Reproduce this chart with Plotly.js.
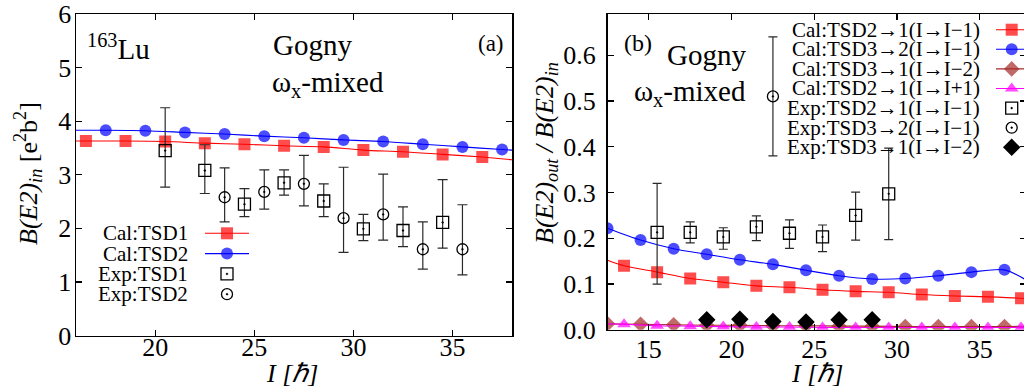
<!DOCTYPE html>
<html>
<head>
<meta charset="utf-8">
<script src="https://cdn.plot.ly/plotly-3.0.1.min.js"></script>
<style>
  html, body { margin: 0; padding: 0; overflow: hidden; background: #fff; }
  #plot { width: 1032px; height: 392px; }
</style>
</head>
<body>
<div id="plot"></div>
<script>
// ---------- Panel (a): in-band B(E2), 163Lu ----------
const spinA_calTSD1 = [16.5, 18.5, 20.5, 22.5, 24.5, 26.5, 28.5, 30.5, 32.5, 34.5, 36.5];
const be2A_calTSD1  = [3.63, 3.63, 3.62, 3.59, 3.57, 3.54, 3.52, 3.46, 3.43, 3.38, 3.33];
const spinA_calTSD2 = [17.5, 19.5, 21.5, 23.5, 25.5, 27.5, 29.5, 31.5, 33.5, 35.5, 37.5];
const be2A_calTSD2  = [3.83, 3.82, 3.79, 3.76, 3.72, 3.69, 3.65, 3.62, 3.57, 3.52, 3.47];
// calculated curves where they meet the frame (I = 16 and I = 38)
const edgeA_calTSD1 = [3.63, 3.28];
const edgeA_calTSD2 = [3.83, 3.46];

const spinA_expTSD1 = [20.5, 22.5, 24.5, 26.5, 28.5, 30.5, 32.5, 34.5];
const be2A_expTSD1  = [3.45, 3.08, 2.45, 2.85, 2.51, 1.99, 1.96, 2.11];
const errUpA_expTSD1 = [0.80, 0.48, 0.29, 0.24, 0.32, 0.27, 0.44, 0.80];
const errDnA_expTSD1 = [0.68, 0.43, 0.23, 0.23, 0.29, 0.22, 0.30, 0.48];
const spinA_expTSD2 = [23.5, 25.5, 27.5, 29.5, 31.5, 33.5, 35.5];
const be2A_expTSD2  = [2.58, 2.68, 2.83, 2.19, 2.26, 1.61, 1.61];
const errUpA_expTSD2 = [0.55, 0.41, 0.53, 0.95, 0.75, 0.51, 0.83];
const errDnA_expTSD2 = [0.46, 0.32, 0.41, 0.64, 0.48, 0.37, 0.48];

// ---------- Panel (b): out-of-band / in-band ratios ----------
const spinB_cal21m = [13.5, 15.5, 17.5, 19.5, 21.5, 23.5, 25.5, 27.5, 29.5, 31.5, 33.5, 35.5, 37.5];
const ratioB_cal21m = [0.140, 0.126, 0.112, 0.104, 0.096, 0.093, 0.0875, 0.084, 0.082, 0.077, 0.074, 0.072, 0.069];
const edgeB_cal21m = [0.152, 0.068];
const spinB_cal32m = [12.5, 14.5, 16.5, 18.5, 20.5, 22.5, 24.5, 26.5, 28.5, 30.5, 32.5, 34.5, 36.5];
const ratioB_cal32m = [0.222, 0.196, 0.177, 0.165, 0.153, 0.143, 0.130, 0.118, 0.111, 0.112, 0.118, 0.126, 0.131];
const edgeB_cal32m = [null, 0.109];
const spinB_cal31 = [12.5, 14.5, 16.5, 18.5, 20.5, 22.5, 24.5, 26.5, 28.5, 30.5, 32.5, 34.5, 36.5];
const ratioB_cal31 = [0.013, 0.012, 0.011, 0.010, 0.010, 0.009, 0.009, 0.008, 0.008, 0.007, 0.007, 0.007, 0.007];
const edgeB_cal31 = [null, 0.008];
const spinB_cal21p = [13.5, 15.5, 17.5, 19.5, 21.5, 23.5, 25.5, 27.5, 29.5, 31.5, 33.5, 35.5, 37.5];
const ratioB_cal21p = [0.012, 0.009, 0.008, 0.007, 0.006, 0.006, 0.005, 0.005, 0.005, 0.005, 0.005, 0.005, 0.005];
const edgeB_cal21p = [0.013, 0.005];

const spinB_exp21 = [15.5, 17.5, 19.5, 21.5, 23.5, 25.5, 27.5, 29.5];
const ratioB_exp21 = [0.213, 0.213, 0.203, 0.225, 0.211, 0.203, 0.250, 0.297];
const errUpB_exp21 = [0.107, 0.023, 0.020, 0.024, 0.029, 0.026, 0.051, 0.100];
const errDnB_exp21 = [0.113, 0.023, 0.027, 0.030, 0.033, 0.032, 0.054, 0.100];
const spinB_exp32 = [22.5];
const ratioB_exp32 = [0.51];
const errUpB_exp32 = [0.13];
const errDnB_exp32 = [0.13];
const spinB_exp31 = [18.5, 20.5, 22.5, 24.5, 26.5, 28.5];
const ratioB_exp31 = [0.022, 0.023, 0.018, 0.017, 0.022, 0.022];

// ---------- labels ----------
const legendA = ['Cal:TSD1', 'Cal:TSD2', 'Exp:TSD1', 'Exp:TSD2'];
const legendB = ['Cal:TSD2\u21921(I\u2192I\u22121)', 'Cal:TSD3\u21922(I\u2192I\u22121)',
                 'Cal:TSD3\u21921(I\u2192I\u22122)', 'Cal:TSD2\u21921(I\u2192I+1)',
                 'Exp:TSD2\u21921(I\u2192I\u22121)', 'Exp:TSD3\u21922(I\u2192I\u22121)',
                 'Exp:TSD3\u21921(I\u2192I\u22122)'];
const ticksA_x = [20, 25, 30, 35];
const ticksA_y = [0, 1, 2, 3, 4, 5, 6];
const ticksB_x = [15, 20, 25, 30, 35];
const ticksB_y = [0, 0.1, 0.2, 0.3, 0.4, 0.5, 0.6];

// ---------- geometry and styles ----------
const W = 1032, H = 392;
const px = v => v / W;
const py = v => 1 - v / H;
const rangeA = [16, 38], rangeB = [12.5, 37.8];
const FONT = 'Liberation Serif, Times New Roman, serif';

const sty = {
  red:     { color: '#ff0000', symbol: 'square',          size: 12 },
  blue:    { color: '#0000ff', symbol: 'circle',          size: 12 },
  brown:   { color: '#a52a2a', symbol: 'diamond',         size: 12 },
  magenta: { color: '#ff00ff', symbol: 'triangle-up',     size: 12 },
  expSq:   { color: '#000000', symbol: 'square-open-dot', size: 12 },
  expCi:   { color: '#000000', symbol: 'circle-open-dot', size: 11 },
  expDi:   { color: '#000000', symbol: 'diamond',         size: 12 }
};

// calculated series: markers at the points, smooth curve continued to the frame edges
function calTrace(I, vals, edge, range, st, xa, ya) {
  const xs = [], ys = [], sz = [];
  if (edge[0] !== null) { xs.push(range[0]); ys.push(edge[0]); sz.push(0); }
  I.forEach((v, i) => { xs.push(v); ys.push(vals[i]); sz.push(st.size); });
  if (edge[1] !== null) { xs.push(range[1]); ys.push(edge[1]); sz.push(0); }
  return {
    type: 'scatter', mode: 'lines+markers', x: xs, y: ys, xaxis: xa, yaxis: ya,
    line: { color: st.color, width: 1.1, shape: 'spline', smoothing: 0.8 },
    marker: { color: st.color, symbol: st.symbol, size: sz, line: { width: 0 } },
    hoverinfo: 'x+y'
  };
}

function expTrace(I, vals, up, dn, st, xa, ya, capW) {
  const t = {
    type: 'scatter', mode: 'markers', x: I, y: vals, xaxis: xa, yaxis: ya,
    marker: { color: st.color, symbol: st.symbol, size: st.size, line: { width: 1.3, color: st.color } }
  };
  if (up) {
    t.error_y = { type: 'data', symmetric: false, array: up, arrayminus: dn,
                  color: '#2a2a2a', thickness: 1.2, width: capW };
  }
  return t;
}

const traces = [
  calTrace(spinA_calTSD1, be2A_calTSD1, edgeA_calTSD1, rangeA, sty.red, 'x', 'y'),
  calTrace(spinA_calTSD2, be2A_calTSD2, edgeA_calTSD2, rangeA, sty.blue, 'x', 'y'),
  expTrace(spinA_expTSD1, be2A_expTSD1, errUpA_expTSD1, errDnA_expTSD1, sty.expSq, 'x', 'y', 5),
  expTrace(spinA_expTSD2, be2A_expTSD2, errUpA_expTSD2, errDnA_expTSD2, sty.expCi, 'x', 'y', 5),

  calTrace(spinB_cal31, ratioB_cal31, edgeB_cal31, rangeB, sty.brown, 'x2', 'y2'),
  calTrace(spinB_cal21p, ratioB_cal21p, edgeB_cal21p, rangeB, sty.magenta, 'x2', 'y2'),
  expTrace(spinB_exp31, ratioB_exp31, null, null, sty.expDi, 'x2', 'y2'),
  calTrace(spinB_cal21m, ratioB_cal21m, edgeB_cal21m, rangeB, sty.red, 'x2', 'y2'),
  calTrace(spinB_cal32m, ratioB_cal32m, edgeB_cal32m, rangeB, sty.blue, 'x2', 'y2'),
  expTrace(spinB_exp21, ratioB_exp21, errUpB_exp21, errDnB_exp21, sty.expSq, 'x2', 'y2', 4.5),
  expTrace(spinB_exp32, ratioB_exp32, errUpB_exp32, errDnB_exp32, sty.expCi, 'x2', 'y2', 4.5)
];

// ---------- keys (text right-aligned, sample to its right) ----------
const annotations = [];
function keyRow(label, st, isCal, textRight, rowY, lineX0, markX, lineX1) {
  annotations.push({
    xref: 'paper', yref: 'paper', x: px(textRight), y: py(rowY),
    xanchor: 'right', yanchor: 'middle', showarrow: false, text: label,
    font: { family: FONT, size: 21, color: '#000' }
  });
  if (isCal) {
    traces.push({
      type: 'scatter', mode: 'lines+markers', xaxis: 'x3', yaxis: 'y3',
      x: [lineX0, markX, lineX1], y: [rowY, rowY, rowY], hoverinfo: 'skip',
      line: { color: st.color, width: 1.1 },
      marker: { color: st.color, symbol: st.symbol, size: [0, st.size, 0], line: { width: 0 } }
    });
  } else {
    traces.push({
      type: 'scatter', mode: 'markers', xaxis: 'x3', yaxis: 'y3',
      x: [markX], y: [rowY], hoverinfo: 'skip',
      marker: { color: st.color, symbol: st.symbol, size: st.size, line: { width: 1.3, color: st.color } }
    });
  }
}
const keyStylesA = [[sty.red, true], [sty.blue, true], [sty.expSq, false], [sty.expCi, false]];
legendA.forEach((t, i) => keyRow(t, keyStylesA[i][0], keyStylesA[i][1], 190, 233.3 + 20.3 * i, 205, 227, 249));
const keyStylesB = [[sty.red, true], [sty.blue, true], [sty.brown, true], [sty.magenta, true],
                    [sty.expSq, false], [sty.expCi, false], [sty.expDi, false]];
legendB.forEach((t, i) => keyRow(t, keyStylesB[i][0], keyStylesB[i][1], 982, 29.7 + 19.6 * i, 996, 1011.7, 1040));

// ---------- panel texts ----------
function txt(text, x, y, size, opts) {
  annotations.push(Object.assign({
    xref: 'paper', yref: 'paper', x: px(x), y: py(y), xanchor: 'left', yanchor: 'middle',
    showarrow: false, text: text, font: { family: FONT, size: size, color: '#000' }
  }, opts || {}));
}
txt('<sup>163</sup>Lu', 85, 47, 29);
txt('Gogny', 271, 45, 29);
txt('\u03c9<sub>x</sub>-mixed', 270, 84, 29);
txt('(a)', 491, 43, 23, { xanchor: 'center' });
txt('(b)', 638, 43, 24, { xanchor: 'center' });
txt('Gogny', 665, 55, 29);
txt('\u03c9<sub>x</sub>-mixed', 632, 93, 29);
txt('<i>I [\u210f]</i>', 292, 373, 26, { xanchor: 'center' });
txt('<i>I [\u210f]</i>', 817, 373, 26, { xanchor: 'center' });
txt('<i>B(E2)<sub>in</sub></i> [e<sup>2</sup>b<sup>2</sup>]', 28, 174, 26, { xanchor: 'center', textangle: -90 });
txt('<i>B(E2)<sub>out</sub> / B(E2)<sub>in</sub></i>', 546, 153, 26, { xanchor: 'center', textangle: -90 });

// ---------- axes ----------
const axBase = {
  showgrid: false, zeroline: false, showline: true, linecolor: '#000', linewidth: 1.5,
  mirror: 'allticks', ticks: 'inside', ticklen: 6, tickwidth: 1.2, tickcolor: '#000',
  tickfont: { family: FONT, size: 26, color: '#000' }, fixedrange: true
};
const layout = {
  width: W, height: H, margin: { l: 0, r: 0, t: 0, b: 0 },
  paper_bgcolor: '#fff', plot_bgcolor: 'rgba(0,0,0,0)', showlegend: false,
  xaxis: Object.assign({}, axBase, { domain: [px(76), px(512)], range: rangeA, tickvals: ticksA_x,
                                    anchor: 'y', ticklabelstandoff: -12 }),
  yaxis: Object.assign({}, axBase, { domain: [py(335.5), py(14)], range: [0, 6], tickvals: ticksA_y,
                                    anchor: 'x', ticklabelstandoff: -2 }),
  xaxis2: Object.assign({}, axBase, { domain: [px(607.5), px(1026)], range: rangeB, tickvals: ticksB_x,
                                     anchor: 'y2', ticklabelstandoff: -5 }),
  yaxis2: Object.assign({}, axBase, { domain: [py(329.8), py(14)], range: [0, 0.69], tickvals: ticksB_y,
                                     tickformat: '.1f', anchor: 'x2', ticklabelstandoff: 5 }),
  xaxis3: { domain: [0, 1], range: [0, W], visible: false, anchor: 'y3', fixedrange: true },
  yaxis3: { domain: [0, 1], range: [H, 0], visible: false, anchor: 'x3', fixedrange: true },
  annotations: annotations
};

Plotly.newPlot('plot', traces, layout, { staticPlot: true, displayModeBar: false });
</script>
</body>
</html>
